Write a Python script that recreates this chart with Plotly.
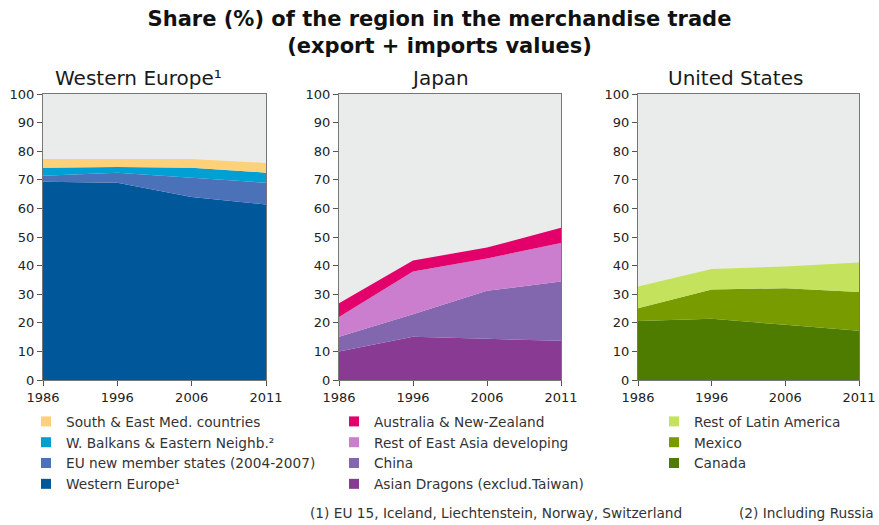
"""Stacked area panels: share of each region in merchandise trade."""
import plotly.graph_objects as go

W, H = 879, 525
YEARS = ["1986", "1996", "2006", "2011"]

# Western Europe panel (bottom to top)
we_western_europe = [69.3, 69.0, 64.0, 61.4]
we_eu_new = [2.1, 3.5, 6.7, 7.6]
we_balkans = [2.8, 2.0, 3.5, 3.5]
we_med = [3.1, 2.8, 3.1, 3.4]

# Japan panel
jp_dragons = [10.0, 15.1, 14.4, 13.7]
jp_china = [5.1, 7.9, 16.8, 20.7]
jp_rest_asia = [6.9, 14.9, 11.3, 13.5]
jp_aus_nz = [4.8, 3.9, 3.8, 5.3]

# United States panel
us_canada = [20.6, 21.4, 19.3, 17.2]
us_mexico = [4.5, 10.2, 12.8, 13.6]
us_latin = [7.6, 7.2, 7.6, 10.3]

PANELS = [
    ("Western Europe¹", "legend", [
        ("Western Europe¹", we_western_europe, "#00589a"),
        ("EU new member states (2004-2007)", we_eu_new, "#4b72b9"),
        ("W. Balkans & Eastern Neighb.²", we_balkans, "#009fd4"),
        ("South & East Med. countries", we_med, "#fdd17a"),
    ]),
    ("Japan", "legend2", [
        ("Asian Dragons (exclud.Taiwan)", jp_dragons, "#893a93"),
        ("China", jp_china, "#8266ae"),
        ("Rest of East Asia developing", jp_rest_asia, "#cb7ecd"),
        ("Australia & New-Zealand", jp_aus_nz, "#e4006b"),
    ]),
    ("United States", "legend3", [
        ("Canada", us_canada, "#4d7c00"),
        ("Mexico", us_mexico, "#789c00"),
        ("Rest of Latin America", us_latin, "#c5e25c"),
    ]),
]

# pixel boxes of the three plot areas (left, right) and panel title centres
X_BOXES = [(43, 266), (339, 561), (638, 859)]
TITLE_X = [138, 440, 735]
Y_TOP, Y_BOT = 94, 380
LEGEND_X = [26, 334, 654]

FONT = "DejaVu Sans, Verdana, sans-serif"

fig = go.Figure()
for i, (title, legend_name, series) in enumerate(PANELS):
    xa = "x" if i == 0 else f"x{i + 1}"
    ya = "y" if i == 0 else f"y{i + 1}"
    for name, vals, color in series:
        fig.add_trace(go.Scatter(
            x=YEARS, y=vals, xaxis=xa, yaxis=ya,
            stackgroup=f"s{i}", mode="lines",
            line=dict(width=0, color=color), fillcolor=color,
            showlegend=False, hoverinfo="skip",
        ))
        # square swatch for the legend only
        fig.add_trace(go.Scatter(
            x=[None], y=[None], xaxis=xa, yaxis=ya, mode="markers", name=name,
            marker=dict(symbol="square", size=10, color=color),
            legend=legend_name,
        ))

    x0, x1 = X_BOXES[i]
    axis_style = dict(showline=True, linecolor="#777777", linewidth=1, mirror=True,
                      ticks="outside", ticklen=5, tickcolor="#555555",
                      tickfont=dict(size=13, color="#222222", family=FONT),
                      showgrid=False, zeroline=False, fixedrange=True,
                      automargin=False)
    fig.update_layout(**{
        ("xaxis" if i == 0 else f"xaxis{i + 1}"): dict(
            domain=[x0 / W, x1 / W], anchor=ya, type="category",
            range=[0, 3], **axis_style),
        ("yaxis" if i == 0 else f"yaxis{i + 1}"): dict(
            domain=[1 - Y_BOT / H, 1 - Y_TOP / H], anchor=xa,
            range=[0, 100], dtick=10, **axis_style),
    })
    fig.add_annotation(
        text=title, x=TITLE_X[i] / W, y=1 - 78 / H, xref="paper", yref="paper",
        showarrow=False, font=dict(size=20, color="#1a1a1a", family=FONT),
        xanchor="center", yanchor="middle",
    )

legend_base = dict(orientation="v", traceorder="reversed", xanchor="left",
                   yanchor="top", y=1 - 406 / H, bgcolor="rgba(0,0,0,0)",
                   font=dict(size=13.7, color="#333333", family=FONT))
fig.update_layout(
    legend=dict(x=LEGEND_X[0] / W, **legend_base),
    legend2=dict(x=LEGEND_X[1] / W, **legend_base),
    legend3=dict(x=LEGEND_X[2] / W, **legend_base),
)

fig.add_annotation(
    text="(1) EU 15, Iceland, Liechtenstein, Norway, Switzerland",
    x=308 / W, y=1 - 513 / H, xref="paper", yref="paper", showarrow=False,
    xanchor="left", yanchor="middle", font=dict(size=13.7, color="#333333", family=FONT))
fig.add_annotation(
    text="(2) Including Russia",
    x=876 / W, y=1 - 513 / H, xref="paper", yref="paper", showarrow=False,
    xanchor="right", yanchor="middle", font=dict(size=13.7, color="#333333", family=FONT))

fig.update_layout(
    title=dict(
        text="<b>Share (%) of the region in the merchandise trade<br>(export + imports values)</b>",
        x=0.5, xanchor="center", y=1 - 26 / H, yanchor="middle",
        font=dict(size=21, color="#111111", family=FONT)),
    width=W, height=H,
    margin=dict(l=0, r=0, t=0, b=0),
    paper_bgcolor="white",
    plot_bgcolor="#eaeceb",
    showlegend=True,
)

# drop the default 8px body margin so the figure sits at the page corner
fig.write_html("out.html", config={"displayModeBar": False},
               post_script="document.body.style.margin = '0';")
